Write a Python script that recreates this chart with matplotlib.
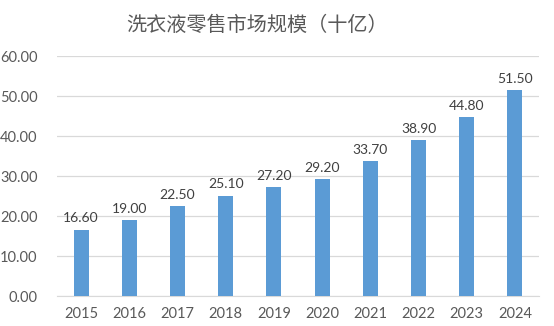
import matplotlib
matplotlib.use("Agg")
import matplotlib.pyplot as plt

years = ["2015", "2016", "2017", "2018", "2019", "2020", "2021", "2022", "2023", "2024"]
market_size = [16.60, 19.00, 22.50, 25.10, 27.20, 29.20, 33.70, 38.90, 44.80, 51.50]
y_ticks = [0, 10, 20, 30, 40, 50, 60]

text_color = "#595959"
bar_color = "#5b9bd5"
grid_color = "#d9d9d9"

fig = plt.figure(figsize=(5.54, 3.26), dpi=100)
ax = fig.add_axes([57 / 554, 30 / 326, (539 - 57) / 554, (296 - 56) / 326])

x = list(range(len(years)))
ax.bar(x, market_size, width=0.31, color=bar_color, zorder=3)

for xi, v in zip(x, market_size):
    ax.text(xi, v + 1.3, f"{v:.2f}", ha="center", va="bottom",
            fontsize=10, color="#404040", family="Lato")

ax.set_xlim(-0.5, len(years) - 0.5)
ax.set_ylim(0, 60)
ax.set_yticks(y_ticks)
ax.set_yticklabels([f"{t:.2f}" for t in y_ticks], family="Lato", fontsize=10.5, color=text_color)
ax.set_xticks(x)
ax.set_xticklabels(years, family="Lato", fontsize=10.5, color=text_color)
ax.tick_params(length=0, pad=8)
ax.tick_params(axis="y", pad=14)

ax.grid(axis="y", color=grid_color, linewidth=0.9, zorder=0)
for s in ["top", "right", "left"]:
    ax.spines[s].set_visible(False)
ax.spines["bottom"].set_color(grid_color)

fig.text(257 / 554, 1 - 25 / 326, "洗衣液零售市场规模（十亿）", ha="center", va="center",
         fontsize=14.5, color=text_color, family=["Noto Sans CJK SC", "DejaVu Sans"],
         fontweight="light")

fig.savefig("out.png", dpi=100, facecolor="white")
